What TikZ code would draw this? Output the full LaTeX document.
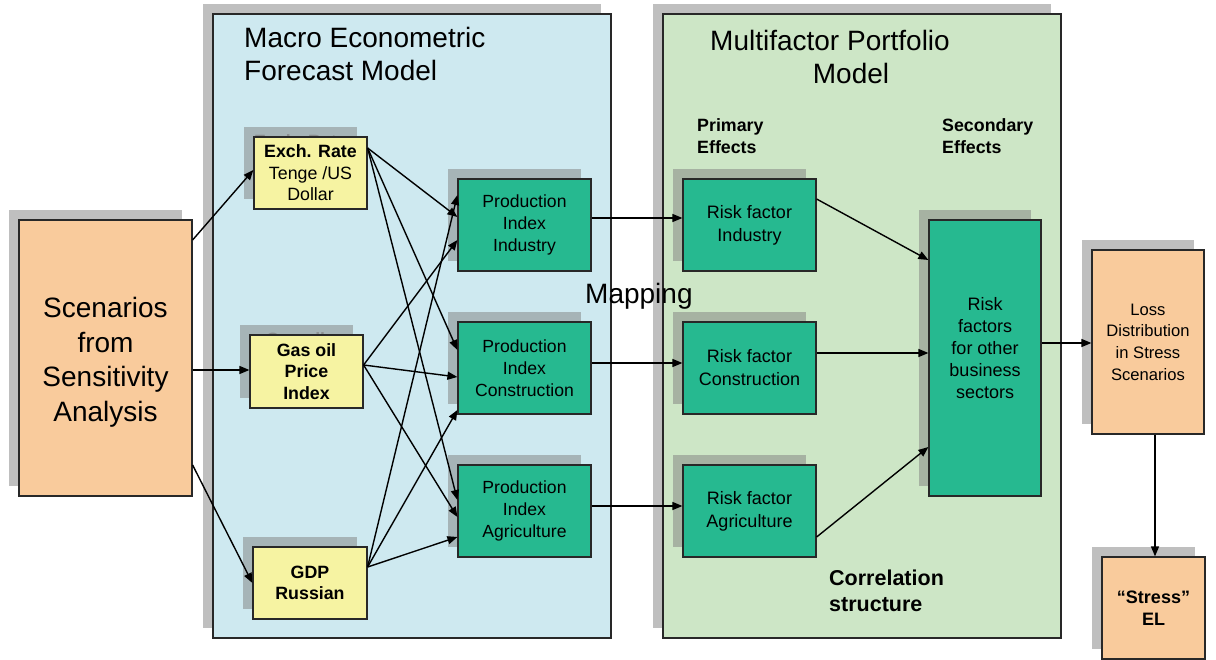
\documentclass[tikz,border=0pt]{standalone}
\usepackage{fontspec}
\setmainfont{Liberation Sans}
\usetikzlibrary{shadows,arrows.meta,calc}

\definecolor{panelblue}{RGB}{206,233,240}
\definecolor{panelgreen}{RGB}{205,230,198}
\definecolor{boxorange}{RGB}{249,203,156}
\definecolor{boxyellow}{RGB}{246,243,162}
\definecolor{boxteal}{RGB}{38,185,144}
\definecolor{shadowgray}{RGB}{128,128,128}
\definecolor{ghosttext}{RGB}{150,158,160}
\definecolor{edge}{RGB}{40,40,40}

\tikzset{
  shad/.style={general shadow={fill=shadowgray, fill opacity=0.5, shadow xshift=-10pt, shadow yshift=10pt}},
  base/.style={draw=edge, line width=1.2pt, inner sep=0pt, align=center, shad},
  panelbox/.style={base, fill=#1},
  orangebox/.style={base, fill=boxorange},
  yellowbox/.style={base, fill=boxyellow, font=\fontsize{17.8}{21.5}\selectfont},
  tealbox/.style={base, fill=boxteal, font=\fontsize{17.6}{22}\selectfont},
  titletext/.style={inner sep=0pt, font=\fontsize{28}{33}\selectfont},
  smallbold/.style={inner sep=0pt, align=left, anchor=west, font=\bfseries\fontsize{17.8}{22}\selectfont},
  ghost/.style={inner sep=0pt, align=center, text=ghosttext, font=\bfseries\fontsize{17.8}{21.5}\selectfont},
  arr/.style={line width=1.4pt, -{Triangle[length=10pt,width=8pt]}},
}

\begin{document}
\begin{tikzpicture}[x=1pt,y=-1pt]
\useasboundingbox (0,0) rectangle (1216,660);

% panels
\node[panelbox=panelblue, minimum width=398pt, minimum height=624pt] (macro) at (412,326) {};
\node[panelbox=panelgreen, minimum width=398pt, minimum height=624pt] (multi) at (862,326) {};

\node[titletext, anchor=west, align=left] (macrot) at (244,53.5) {Macro Econometric\\Forecast Model};
\node[titletext, align=center] (multit) at (830,56.5) {Multifactor Portfolio\\\hspace*{42pt}Model};
\node[smallbold] (prim) at (697,136) {Primary\\Effects};
\node[smallbold] (secd) at (942,136) {Secondary\\Effects};
\node[inner sep=0pt, align=left, anchor=west, font=\bfseries\fontsize{21.5}{26}\selectfont] (corr) at (829,591) {Correlation\\structure};

% ghost texts inside the shadows (only their tops show)
\node[ghost] (ghostexch) at (300.5,141.5) {Exch. Rate};
\node[ghost] (ghostgas) at (295.5,339.5) {Gas oil};

% left box
\node[orangebox, minimum width=173pt, minimum height=276pt, font=\fontsize{28}{34.5}\selectfont] (scen) at (105.5,358) {\rule{0pt}{29pt}Scenarios\\from\\Sensitivity\\Analysis};

% yellow boxes
\node[yellowbox, minimum width=113pt, minimum height=72pt] (exch) at (310.5,173) {\textbf{Exch. Rate}\\Tenge /US\\Dollar};
\node[yellowbox, minimum width=113pt, minimum height=73pt, font=\bfseries\fontsize{17.8}{21.5}\selectfont] (gas) at (306.5,371.5) {Gas oil\\Price\\Index};
\node[yellowbox, minimum width=114pt, minimum height=72pt, font=\bfseries\fontsize{17.8}{21.5}\selectfont] (gdp) at (310,583) {GDP\\Russian};

% production index boxes
\node[tealbox, minimum width=133pt, minimum height=92pt] (pind) at (524.5,225) {Production\\Index\\Industry};
\node[tealbox, minimum width=133pt, minimum height=92pt] (pcon) at (524.5,368) {Production\\Index\\Construction};
\node[tealbox, minimum width=133pt, minimum height=92pt] (pagr) at (524.5,511) {Production\\Index\\Agriculture};

% risk factor boxes
\node[tealbox, minimum width=133pt, minimum height=92pt, font=\fontsize{18}{23}\selectfont] (rind) at (749.5,225) {Risk factor\\Industry};
\node[tealbox, minimum width=133pt, minimum height=92pt, font=\fontsize{18}{23}\selectfont] (rcon) at (749.5,368) {Risk factor\\Construction};
\node[tealbox, minimum width=133pt, minimum height=92pt, font=\fontsize{18}{23}\selectfont] (ragr) at (749.5,511) {Risk factor\\Agriculture};

% other risk factors
\node[tealbox, minimum width=112pt, minimum height=276pt] (oth) at (985,358) {};
\node[inner sep=0pt, align=center, font=\fontsize{18}{21.8}\selectfont] (othlbl) at (985,348) {Risk\\factors\\for other\\business\\sectors};

% output boxes
\node[orangebox, minimum width=112pt, minimum height=184pt, font=\fontsize{16.6}{21.7}\selectfont] (loss) at (1148,342) {Loss\\Distribution\\in Stress\\Scenarios};
\node[orangebox, minimum width=103pt, minimum height=102pt, font=\bfseries\fontsize{18}{21.5}\selectfont] (stress) at (1153.5,608) {“Stress”\\EL};

\node[titletext, anchor=west] (mapping) at (585,296) {Mapping};

% arrows: scenarios to inputs
\draw[arr] ([yshift=118pt]scen.east) -- ([yshift=3pt]exch.west);
\draw[arr] ([yshift=-12pt]scen.east) -- ([yshift=1.5pt]gas.west);
\draw[arr] ([yshift=-107pt]scen.east) -- (gdp.west);

% inputs to production indices
\draw[arr] ([yshift=25pt]exch.east) -- ([yshift=8pt]pind.west);
\draw[arr] ([yshift=25pt]exch.east) -- ([yshift=18pt]pcon.west);
\draw[arr] ([yshift=25pt]exch.east) -- ([yshift=11pt]pagr.west);
\draw[arr] ([yshift=6.5pt]gas.east) -- ([yshift=-15pt]pind.west);
\draw[arr] ([yshift=6.5pt]gas.east) -- ([yshift=-9pt]pcon.west);
\draw[arr] ([yshift=6.5pt]gas.east) -- ([yshift=-6pt]pagr.west);
\draw[arr] ([yshift=16pt]gdp.east) -- ([yshift=30pt]pind.west);
\draw[arr] ([yshift=16pt]gdp.east) -- ([yshift=-42pt]pcon.west);
\draw[arr] ([yshift=16pt]gdp.east) -- ([yshift=-26pt]pagr.west);

% mapping
\draw[arr] ([yshift=7pt]pind.east) -- ([yshift=7pt]rind.west);
\draw[arr] ([yshift=5pt]pcon.east) -- ([yshift=5pt]rcon.west);
\draw[arr] ([yshift=5pt]pagr.east) -- ([yshift=5pt]ragr.west);

% secondary effects
\draw[arr] ([yshift=26pt]rind.east) -- ([yshift=98pt]oth.west);
\draw[arr] ([yshift=15pt]rcon.east) -- ([yshift=5pt]oth.west);
\draw[arr] ([yshift=-26pt]ragr.east) -- ([yshift=-89pt]oth.west);

% outputs
\draw[arr] ([yshift=15pt]oth.east) -- ([yshift=-1pt]loss.west);
\draw[arr] ([xshift=7pt]loss.south) -- ([xshift=1.5pt]stress.north);
\end{tikzpicture}
\end{document}
